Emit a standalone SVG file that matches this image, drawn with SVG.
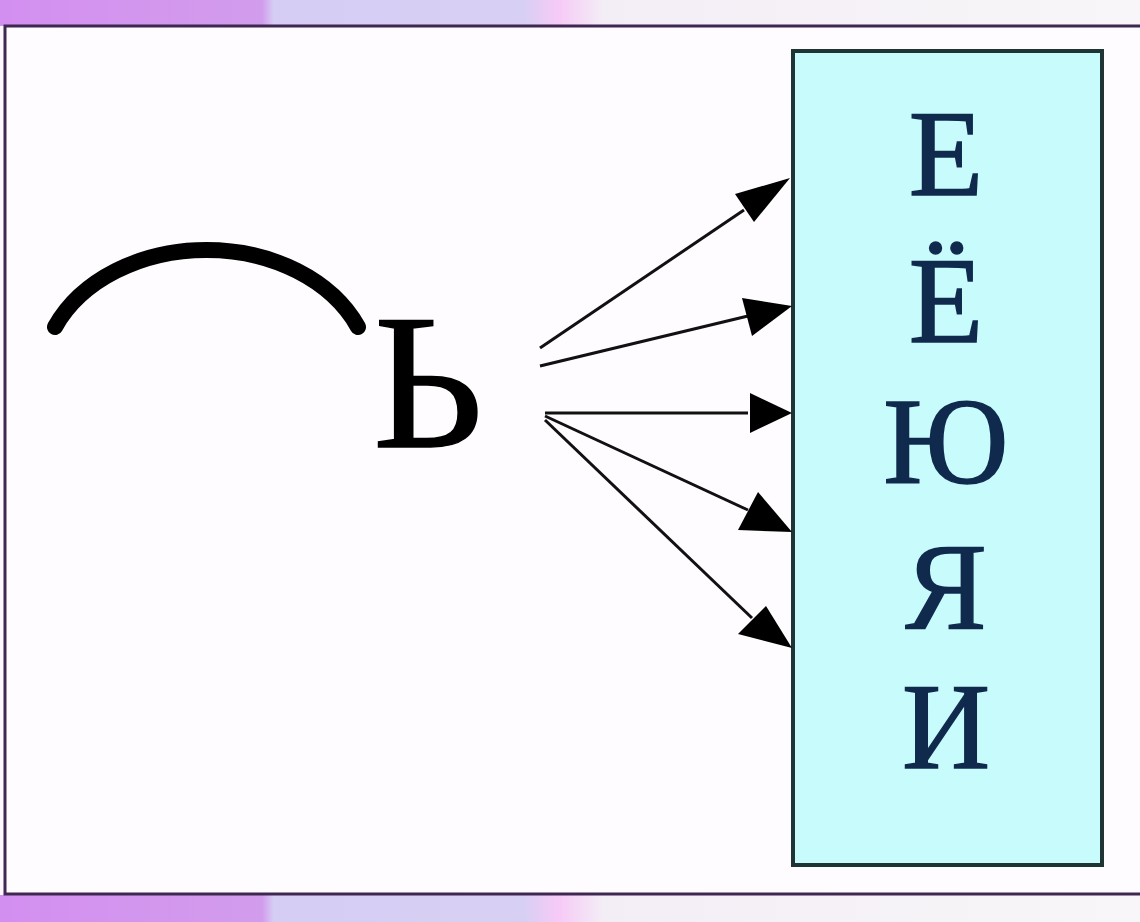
<svg xmlns="http://www.w3.org/2000/svg" width="1140" height="922" viewBox="0 0 1140 922">
<defs>
<linearGradient id="band" x1="0" y1="0" x2="1" y2="0">
<stop offset="0" stop-color="#d38ff0"/>
<stop offset="0.23" stop-color="#d29cec"/>
<stop offset="0.24" stop-color="#d6cdf5"/>
<stop offset="0.46" stop-color="#d8cff4"/>
<stop offset="0.49" stop-color="#f6caf6"/>
<stop offset="0.53" stop-color="#f3eef6"/>
<stop offset="1" stop-color="#f8f6f8"/>
</linearGradient>
<style>
.arr{stroke:#111;stroke-width:3;fill:none}
.head{fill:#000}
.letter{font-family:"Liberation Serif","Times New Roman",serif;font-size:122px;fill:#0f2a4d;stroke:#0f2a4d;stroke-width:1.5;text-anchor:middle}
</style>
</defs>
<rect x="0" y="0" width="1140" height="922" fill="#fbf7fb"/>
<rect x="0" y="0" width="1140" height="26" fill="url(#band)"/>
<rect x="0" y="895" width="1140" height="27" fill="url(#band)"/>
<rect x="5" y="26" width="1145" height="868" fill="#fffcff" stroke="#3e2750" stroke-width="3"/>
<g id="arc">
<path d="M55,327 A165,127.5 0 0 1 358,327" fill="none" stroke="#000" stroke-width="16" stroke-linecap="round"/>
</g>
<g id="soft-sign">
<text x="428" y="447" font-family="'Liberation Serif','Times New Roman',serif" font-size="192" text-anchor="middle" fill="#000" stroke="#000" stroke-width="1.5">Ь</text>
</g>
<g id="vowels">
<rect x="793" y="51" width="309" height="814" fill="#c8fbfb" stroke="#1f3535" stroke-width="4"/>
<text class="letter" x="946" y="195">Е</text>
<text class="letter" x="946" y="342">Ё</text>
<text class="letter" x="946" y="483">Ю</text>
<text class="letter" x="946" y="628">Я</text>
<text class="letter" x="946" y="768">И</text>
</g>
<g id="connectors">
<path d="M540,348 L744,210" class="arr"/>
<polygon class="head" points="790,178 754,222 735,194"/>
<path d="M540,366 L748,316" class="arr"/>
<polygon class="head" points="792,306 752,336 742,298"/>
<path d="M545,413 L748,413" class="arr"/>
<polygon class="head" points="792,413 750,433 750,393"/>
<path d="M545,416 L748,510" class="arr"/>
<polygon class="head" points="792,532 738,530 758,492"/>
<path d="M545,420 L752,618" class="arr"/>
<polygon class="head" points="792,648 738,634 766,606"/>
</g>
</svg>
